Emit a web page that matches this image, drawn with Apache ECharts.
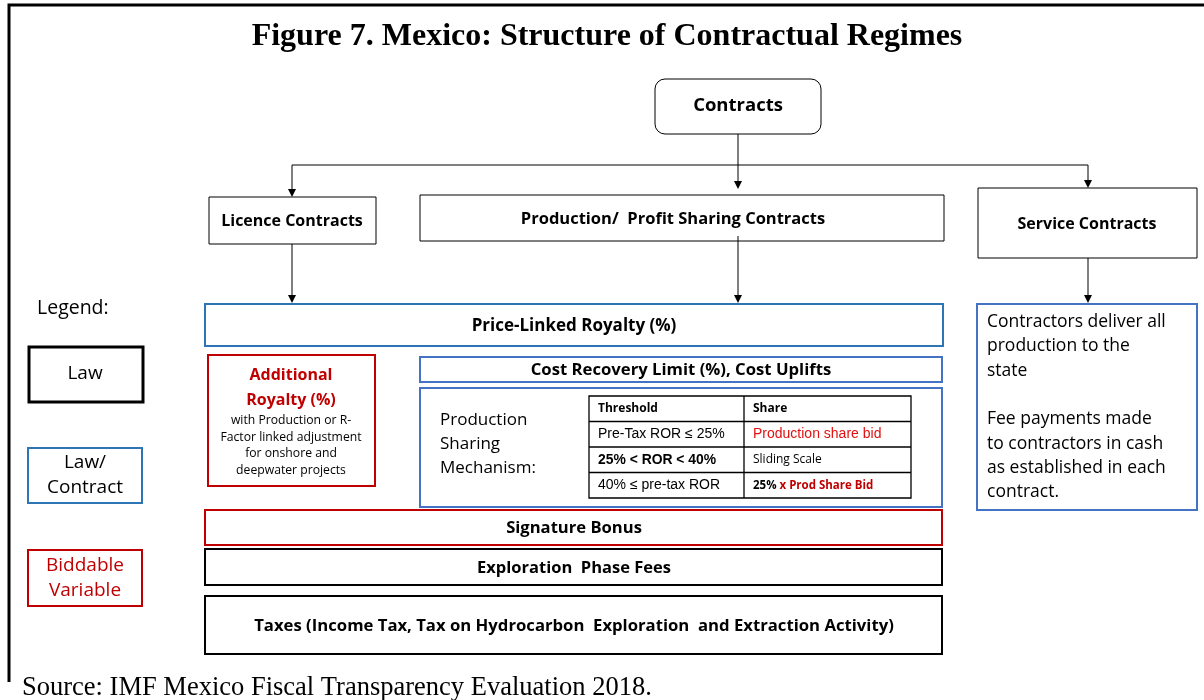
<!DOCTYPE html>
<html>
  <head>
    <meta charset="utf-8" />
    <title>Mexico contractual regimes</title>
    <script src="https://cdn.jsdelivr.net/npm/echarts@6/dist/echarts.min.js"></script>
    <style>
      html, body { margin: 0; padding: 0; background: #fff; }
    </style>
  </head>
  <body>
    <div id="main" style="width: 1204px;height:700px;"></div>
    <script type="text/javascript">
      // 图中的文字内容
      var figTitle = 'Figure 7. Mexico: Structure of Contractual Regimes';
      var rootNode = 'Contracts';
      var contractTypes = ['Licence Contracts', 'Production/  Profit Sharing Contracts', 'Service Contracts'];
      var legendTitle = 'Legend:';
      var legendItems = ['Law', 'Law/\nContract', 'Biddable\nVariable'];
      var fiscalTerms = [
        'Price-Linked Royalty (%)',
        'Cost Recovery Limit (%), Cost Uplifts',
        'Signature Bonus',
        'Exploration  Phase Fees',
        'Taxes (Income Tax, Tax on Hydrocarbon  Exploration  and Extraction Activity)'
      ];
      var addRoyaltyTitle = 'Additional\nRoyalty (%)';
      var addRoyaltyNote = 'with Production or R-\nFactor linked adjustment\nfor onshore and\ndeepwater projects';
      var psmLabel = 'Production\nSharing\nMechanism:';
      var tableHeader = ['Threshold', 'Share'];
      var thresholds = ['Pre-Tax ROR ≤ 25%', '25% < ROR < 40%', '40% ≤ pre-tax ROR'];
      var shares = ['Production share bid', 'Sliding Scale', '{k|25%} {r|x Prod Share Bid}'];
      var serviceText = 'Contractors deliver all\nproduction to the\nstate\n\nFee payments made\nto contractors in cash\nas established in each\ncontract.';
      var sourceNote = 'Source: IMF Mexico Fiscal Transparency Evaluation 2018.';

      var SANS = '"Open Sans", "Noto Sans", sans-serif';
      var SERIF = '"Liberation Serif", "DejaVu Serif", serif';
      var ARIAL = '"Liberation Sans", Arial, sans-serif';
      var BLUE = '#2E75B6', BLUE2 = '#4472C4', RED = '#C00000', RED2 = '#E01010';

      var els = [];
      function box(x, y, w, h, color, lw, r) {
        els.push({ type: 'rect', shape: { x: x, y: y, width: w, height: h, r: r || 0 },
          style: { fill: '#fff', stroke: color, lineWidth: lw || 1.5 } });
      }
      function txt(x, y, text, o) {
        o = o || {};
        els.push({ type: 'text', z: 10, style: {
          x: x, y: y, text: text,
          fontFamily: o.family || SANS, fontSize: o.size || 16, fontWeight: o.weight || 'normal',
          fill: o.color || '#000', align: o.align || 'center', verticalAlign: o.valign || 'middle',
          lineHeight: o.lh, rich: o.rich
        } });
      }
      function line(pts, lw) {
        els.push({ type: 'polyline', shape: { points: pts }, style: { stroke: '#000', lineWidth: lw || 1, fill: null } });
      }
      function arrow(x, y1, y2) {
        line([[x, y1], [x, y2 - 7]]);
        els.push({ type: 'polygon', shape: { points: [[x - 4, y2 - 8], [x + 4, y2 - 8], [x, y2]] }, style: { fill: '#000' } });
      }

      // 外框
      line([[9, 682], [9, 5], [1204, 5]], 3);
      txt(607, 37, figTitle, { family: SERIF, size: 32, weight: 'bold' });

      // 顶层节点与连线
      box(655, 79, 166, 55, '#000', 1, 10);
      txt(738, 106, rootNode, { size: 18.5, weight: 'bold' });
      line([[738, 134], [738, 165]]);
      line([[292, 165], [1088, 165]]);
      arrow(292, 165, 197);
      arrow(738, 165, 189);
      arrow(1088, 165, 188);

      // 合同类型
      box(209, 197, 167, 47, '#000', 1);
      txt(292, 221, contractTypes[0], { size: 16, weight: 'bold' });
      box(420, 195, 524, 46, '#000', 1);
      txt(673, 219, contractTypes[1], { size: 16.5, weight: 'bold' });
      box(978, 188, 219, 70, '#000', 1);
      txt(1087, 224, contractTypes[2], { size: 16, weight: 'bold' });
      arrow(292, 244, 303);
      arrow(738, 236, 303);
      arrow(1088, 258, 303);

      // 图例
      txt(37, 308, legendTitle, { size: 19.5, align: 'left' });
      box(29, 347, 114, 55, '#000', 3);
      txt(85, 374, legendItems[0], { size: 19 });
      box(28, 448, 114, 55, BLUE, 2);
      txt(85, 475, legendItems[1], { size: 19, lh: 25 });
      box(28, 550, 114, 56, RED, 2);
      txt(85, 578, legendItems[2], { size: 19, lh: 25, color: RED });

      // 财政条款
      box(205, 304, 738, 42, BLUE, 2);
      txt(574, 326, fiscalTerms[0], { size: 17, weight: 'bold' });
      box(208, 355, 167, 131, RED, 2);
      txt(291, 388, addRoyaltyTitle, { size: 16, weight: 'bold', color: RED, lh: 25 });
      txt(291, 445.5, addRoyaltyNote, { size: 12.2, lh: 16.5 });
      box(420, 357, 522, 25, BLUE2, 2);
      txt(681, 370, fiscalTerms[1], { size: 16.7, weight: 'bold' });
      box(420, 388, 522, 119, BLUE2, 2);
      txt(440, 444, psmLabel, { size: 17, align: 'left', lh: 24 });

      // 产量分成表
      var tx = 589, tw = 322, cx = 744, ty = 396, rh = 25.5;
      els.push({ type: 'rect', shape: { x: tx, y: ty, width: tw, height: rh * 4 }, style: { fill: '#fff', stroke: '#000', lineWidth: 1.3 } });
      for (var i = 1; i < 4; i++) line([[tx, ty + rh * i], [tx + tw, ty + rh * i]], 1.3);
      line([[cx, ty], [cx, ty + rh * 4]], 1.3);
      txt(598, ty + rh / 2, tableHeader[0], { size: 12, weight: 'bold', align: 'left' });
      txt(753, ty + rh / 2, tableHeader[1], { size: 12, weight: 'bold', align: 'left' });
      txt(598, ty + rh * 1.5, thresholds[0], { size: 14, align: 'left', family: ARIAL });
      txt(598, ty + rh * 2.5, thresholds[1], { size: 13.9, align: 'left', family: ARIAL, weight: 'bold' });
      txt(598, ty + rh * 3.5, thresholds[2], { size: 14, align: 'left', family: ARIAL });
      txt(753, ty + rh * 1.5, shares[0], { size: 14, align: 'left', family: ARIAL, color: RED2 });
      txt(753, ty + rh * 2.5, shares[1], { size: 12, align: 'left' });
      txt(753, ty + rh * 3.5, shares[2], { size: 11.5, align: 'left', weight: 'bold',
        rich: { k: { fontSize: 11.5, fontWeight: 'bold', fontFamily: SANS, fill: '#000' },
                r: { fontSize: 11.5, fontWeight: 'bold', fontFamily: SANS, fill: RED } } });

      box(205, 510, 737, 35, RED, 2);
      txt(574, 528, fiscalTerms[2], { size: 16.6, weight: 'bold' });
      box(205, 549, 737, 36, '#000', 2);
      txt(574, 568, fiscalTerms[3], { size: 16.5, weight: 'bold' });
      box(205, 596, 737, 58, '#000', 2);
      txt(574, 626, fiscalTerms[4], { size: 16.7, weight: 'bold' });

      // 服务合同说明
      box(977, 304, 220, 206, BLUE2, 2);
      txt(987, 310, serviceText, { size: 17.5, align: 'left', valign: 'top', lh: 24.3 });

      txt(22, 688, sourceNote, { family: SERIF, size: 26.5, align: 'left' });

      var myChart = echarts.init(document.getElementById('main'));
      myChart.setOption({ animation: false, graphic: { elements: els } });
    </script>
  </body>
</html>
